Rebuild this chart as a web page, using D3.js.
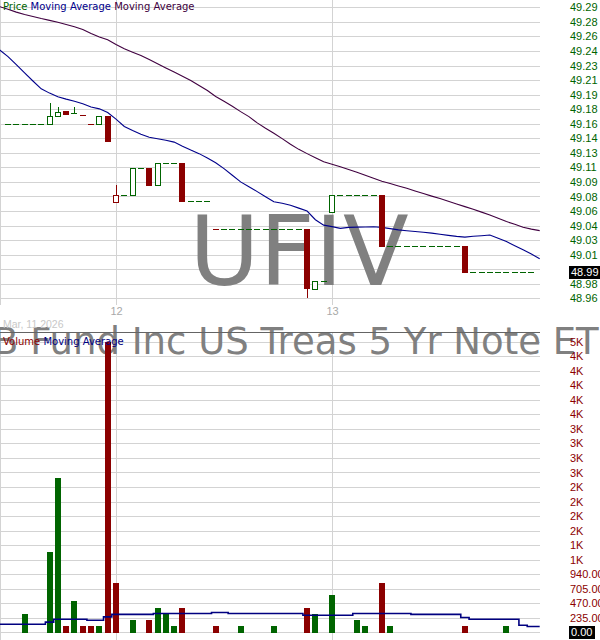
<!DOCTYPE html>
<html>
<head>
<meta charset="utf-8">
<title>UFIV intraday</title>
<script src="https://cdn.jsdelivr.net/npm/d3@7"></script>
<style>
    html, body { margin: 0; padding: 0; background: #fff; }
    #chart { width: 600px; height: 640px; }
    text { white-space: pre; }
</style>
</head>
<body>
<div id="chart"></div>
<script>
// UFIV, 15-minute bars, Mar 11 (last 14 slots) through Mar 13.
// Slot 0 is the Mar 12 open, slot 26 the Mar 13 open.
var firstSlot = -14;
var dayTicks = [0, 26];
var dayLabels = ['12', '13'];
var sessionCaption = 'Mar, 11 2026';
var symbol = 'UFIV';
var fundName = 'RBB Fund Inc US Treas 5 Yr Note ETF';

var priceTicks = [49.2935, 49.2768, 49.2602, 49.2435, 49.2268, 49.2102, 49.1935,
    49.1768, 49.1602, 49.1435, 49.1268, 49.1102, 49.0935, 49.0768, 49.0602,
    49.0435, 49.0268, 49.0102, 48.9935, 48.9768, 48.9602];
var volumeTicks = [0, 235, 470, 705, 940, 1175, 1410, 1645, 1880, 2115, 2350,
    2585, 2820, 3055, 3290, 3525, 3760, 3995, 4230, 4465, 4700];

//            Mar 11 tail (14) | Mar 12 (26) | Mar 13 (26)
var opens = [
    null, 49.160, 49.160, 49.160, 49.160, 49.160, 49.160, 49.169, 49.175, 49.172, 49.170, 49.160, 49.160, 49.169,
    49.070, 49.079, 49.079, 49.109, 49.109, 49.090, 49.115, 49.115, 49.115, 49.072, 49.072, 49.072, 49.040,
    49.040, 49.040, 49.040, 49.040, 49.040, 49.040, 49.040, 49.040, 49.040, 49.040, 49.040, 48.971, 48.980,
    49.059, 49.079, 49.079, 49.079, 49.079, 49.079, 49.079, 49.020, 49.020, 49.020, 49.020, 49.020, 49.020,
    49.020, 49.020, 49.020, 49.020, 48.990, 48.990, 48.990, 48.990, 48.990, 48.990, 48.990, 48.990, 48.990
];
var highs = [
    null, 49.160, 49.160, 49.160, 49.160, 49.160, 49.184, 49.179, 49.175, 49.179, 49.170, 49.160, 49.169, 49.169,
    49.090, 49.079, 49.109, 49.109, 49.109, 49.115, 49.115, 49.115, 49.115, 49.072, 49.072, 49.072, 49.040,
    49.040, 49.040, 49.040, 49.040, 49.040, 49.040, 49.040, 49.040, 49.040, 49.040, 49.040, 48.980, 48.980,
    49.079, 49.079, 49.079, 49.079, 49.079, 49.079, 49.079, 49.020, 49.020, 49.020, 49.020, 49.020, 49.020,
    49.020, 49.020, 49.020, 49.020, 48.990, 48.990, 48.990, 48.990, 48.990, 48.990, 48.990, 48.990, 48.990
];
var lows = [
    null, 49.160, 49.160, 49.160, 49.160, 49.160, 49.160, 49.169, 49.171, 49.172, 49.170, 49.160, 49.160, 49.140,
    49.070, 49.079, 49.079, 49.109, 49.090, 49.090, 49.115, 49.115, 49.072, 49.072, 49.072, 49.072, 49.040,
    49.040, 49.040, 49.040, 49.040, 49.040, 49.040, 49.040, 49.040, 49.040, 49.040, 48.960, 48.971, 48.980,
    49.059, 49.079, 49.079, 49.079, 49.079, 49.079, 49.020, 49.020, 49.020, 49.020, 49.020, 49.020, 49.020,
    49.020, 49.020, 49.020, 48.990, 48.990, 48.990, 48.990, 48.990, 48.990, 48.990, 48.990, 48.990, 48.990
];
var closes = [
    null, 49.160, 49.160, 49.160, 49.160, 49.160, 49.169, 49.174, 49.171, 49.172, 49.170, 49.160, 49.169, 49.140,
    49.079, 49.079, 49.109, 49.109, 49.090, 49.115, 49.115, 49.115, 49.072, 49.072, 49.072, 49.072, 49.040,
    49.040, 49.040, 49.040, 49.040, 49.040, 49.040, 49.040, 49.040, 49.040, 49.040, 48.972, 48.980, 48.980,
    49.079, 49.079, 49.079, 49.079, 49.079, 49.079, 49.020, 49.020, 49.020, 49.020, 49.020, 49.020, 49.020,
    49.020, 49.020, 49.020, 48.990, 48.990, 48.990, 48.990, 48.990, 48.990, 48.990, 48.990, 48.990, 48.990
];
var volumes = [
    0, 0, 0, 300, 0, 0, 1300, 2500, 100, 500, 100, 100, 100, 4700,
    800, 0, 200, 0, 200, 400, 300, 100, 400, 0, 0, 0, 100,
    0, 0, 100, 0, 0, 0, 100, 0, 0, 0, 400, 300, 0,
    600, 0, 0, 200, 100, 0, 800, 100, 0, 0, 0, 0, 0,
    0, 0, 0, 100, 0, 0, 0, 0, 100, 0, 0, 0
];

// moving averages as drawn (fast = blue, slow = purple)
var maFast = [
    49.2446, 49.2370, 49.2279, 49.2184, 49.2091, 49.2001, 49.1952, 49.1911, 49.1883, 49.1859, 49.1830, 49.1794, 49.1772, 49.1729,
    49.1654, 49.1570, 49.1524, 49.1481, 49.1446, 49.1429, 49.1412, 49.1391, 49.1344, 49.1300, 49.1259, 49.1209, 49.1154,
    49.1087, 49.1012, 49.0935, 49.0880, 49.0824, 49.0765, 49.0707, 49.0691, 49.0667, 49.0635, 49.0601, 49.0502, 49.0440,
    49.0423, 49.0403, 49.0414, 49.0417, 49.0418, 49.0422, 49.0414, 49.0400, 49.0386, 49.0376, 49.0367, 49.0358, 49.0348,
    49.0336, 49.0323, 49.0311, 49.0303, 49.0312, 49.0319, 49.0327, 49.0290, 49.0252, 49.0205, 49.0157, 49.0109, 49.0055
];
var maSlow = [
    49.2942, 49.2912, 49.2880, 49.2853, 49.2830, 49.2806, 49.2785, 49.2764, 49.2739, 49.2713, 49.2681, 49.2636, 49.2596, 49.2563,
    49.2508, 49.2460, 49.2421, 49.2384, 49.2336, 49.2289, 49.2241, 49.2193, 49.2146, 49.2097, 49.2039, 49.1982, 49.1913,
    49.1858, 49.1801, 49.1740, 49.1683, 49.1611, 49.1550, 49.1492, 49.1431, 49.1366, 49.1308, 49.1259, 49.1211, 49.1165,
    49.1138, 49.1108, 49.1077, 49.1045, 49.1012, 49.0977, 49.0943, 49.0916, 49.0888, 49.0862, 49.0832, 49.0802, 49.0772,
    49.0744, 49.0713, 49.0683, 49.0652, 49.0621, 49.0589, 49.0555, 49.0518, 49.0481, 49.0450, 49.0415, 49.0394, 49.0377
];
var volumeMa = [
    130, 130, 130, 130, 130, 130, 165, 210, 210, 210, 210, 195, 195, 250,
    290, 290, 290, 290, 290, 305, 305, 305, 305, 305, 305, 305, 320,
    320, 305, 305, 305, 305, 305, 305, 305, 305, 305, 275, 275, 275,
    275, 275, 275, 305, 305, 305, 305, 305, 305, 305, 290, 290, 290,
    290, 290, 290, 240, 210, 210, 210, 210, 210, 210, 115, 95, 95
];

(function () {
    var W = 600, H = 640;
    var plotRight = 540;    // both panels end here
    var labelX = 570;       // value labels on the right
    var priceBottom = 305;  // vertical grid in the price panel stops here
    var volTop = 332;       // volume panel border

    var cUp = '#006400', cDown = '#8b0000';
    var cFast = '#00008b', cSlow = '#400040';
    var cGrid = '#d3d3d3';
    var mono = '"DejaVu Sans", Verdana, sans-serif';

    var svg = d3.select('#chart').append('svg')
        .attr('width', W).attr('height', H)
        .attr('viewBox', '0 0 ' + W + ' ' + H)
        .style('font-family', '"Liberation Sans", Arial, sans-serif');

    var x = d3.scaleLinear().domain(dayTicks).range([116, 332]);
    var yPrice = d3.scaleLinear().domain(d3.extent(priceTicks)).range([298.3, 7.3]);
    var yVol = d3.scaleLinear().domain(d3.extent(volumeTicks)).range([632.3, 341.7]);

    function cx(i) { return Math.round(x(firstSlot + i)); }
    function crisp(v) { return Math.round(v) + 0.5; }

    var bars = d3.range(volumes.length).map(function (i) {
        var prev = i > 0 ? closes[i - 1] : null;
        var c = closes[i];
        return {
            i: i, o: opens[i], h: highs[i], l: lows[i], c: c, v: volumes[i],
            up: prev == null || c == null || c >= prev
        };
    });

    // ---- gridlines ---------------------------------------------------
    var grid = svg.append('g').attr('stroke', cGrid).attr('stroke-width', 1);
    priceTicks.forEach(function (p) {
        grid.append('line').attr('x1', 0).attr('x2', plotRight)
            .attr('y1', crisp(yPrice(p))).attr('y2', crisp(yPrice(p)));
    });
    volumeTicks.forEach(function (v) {
        grid.append('line').attr('x1', 0).attr('x2', plotRight)
            .attr('y1', crisp(yVol(v))).attr('y2', crisp(yVol(v)));
    });
    [0.5].concat(dayTicks.map(function (d) { return crisp(x(d)); })).forEach(function (gx) {
        grid.append('line').attr('x1', gx).attr('x2', gx).attr('y1', 0).attr('y2', priceBottom);
        grid.append('line').attr('x1', gx).attr('x2', gx).attr('y1', volTop).attr('y2', H);
    });

    // ---- watermarks --------------------------------------------------
    svg.append('text').text(symbol)
        .attr('x', 299).attr('y', 285).attr('text-anchor', 'middle')
        .attr('font-family', mono).attr('font-size', 96).attr('fill', '#808080');
    svg.append('text').text(fundName)
        .attr('x', 281).attr('y', 354).attr('text-anchor', 'middle')
        .attr('font-family', mono).attr('font-size', 37).attr('fill', '#808080');

    svg.append('line')
        .attr('x1', 0).attr('x2', plotRight)
        .attr('y1', volTop + 0.5).attr('y2', volTop + 0.5)
        .attr('stroke', '#646464');

    // ---- price panel -------------------------------------------------
    svg.append('clipPath').attr('id', 'plot-clip')
        .append('rect').attr('x', 0).attr('y', 0).attr('width', plotRight).attr('height', H);

    var maLine = d3.line()
        .x(function (d, i) { return x(firstSlot + i); })
        .y(function (d) { return yPrice(d); });
    [[maSlow, cSlow], [maFast, cFast]].forEach(function (s) {
        svg.append('path').datum(s[0])
            .attr('clip-path', 'url(#plot-clip)')
            .attr('fill', 'none').attr('stroke', s[1]).attr('stroke-width', 1.1)
            .attr('d', maLine);
    });

    var gCandle = svg.append('g');
    bars.forEach(function (b) {
        if (b.o == null) return;
        var col = b.up ? cUp : cDown;
        var X = cx(b.i);
        var top = Math.round(yPrice(Math.max(b.o, b.c)));
        var bot = Math.round(yPrice(Math.min(b.o, b.c)));
        if (b.h > Math.max(b.o, b.c)) {
            gCandle.append('line').attr('stroke', col)
                .attr('x1', X + 0.5).attr('x2', X + 0.5)
                .attr('y1', Math.round(yPrice(b.h))).attr('y2', top);
        }
        if (b.l < Math.min(b.o, b.c)) {
            gCandle.append('line').attr('stroke', col)
                .attr('x1', X + 0.5).attr('x2', X + 0.5)
                .attr('y1', bot).attr('y2', Math.round(yPrice(b.l)));
        }
        if (b.o === b.c) {
            gCandle.append('line').attr('stroke', col)
                .attr('x1', X - 3).attr('x2', X + 3)
                .attr('y1', top + 0.5).attr('y2', top + 0.5);
        } else if (b.c > b.o) {
            gCandle.append('rect')
                .attr('x', X - 2.5).attr('y', top + 0.5)
                .attr('width', 5).attr('height', Math.max(1, bot - top))
                .attr('fill', '#fff').attr('stroke', col);
        } else {
            gCandle.append('rect')
                .attr('x', X - 3).attr('y', top)
                .attr('width', 6).attr('height', Math.max(1, bot - top + 1))
                .attr('fill', col);
        }
    });

    // ---- volume panel ------------------------------------------------
    svg.append('g').selectAll('rect')
        .data(bars.filter(function (b) { return b.v > 0; }))
        .join('rect')
        .attr('x', function (b) { return cx(b.i) - 3; })
        .attr('width', 6)
        .attr('y', function (b) { return Math.round(yVol(b.v)); })
        .attr('height', function (b) { return Math.round(yVol(0)) - Math.round(yVol(b.v)) + 1; })
        .attr('fill', function (b) { return b.up ? cUp : cDown; });

    svg.append('path').datum(volumeMa)
        .attr('clip-path', 'url(#plot-clip)')
        .attr('fill', 'none').attr('stroke', '#000080').attr('stroke-width', 1.6)
        .attr('d', d3.line()
            .x(function (d, i) { return x(firstSlot + i); })
            .y(function (d) { return yVol(d); })
            .curve(d3.curveStep));

    // ---- axes --------------------------------------------------------
    var lastClose = closes[closes.length - 1];
    var lastVol = volumes[volumes.length - 1];

    function fmtVol(v) { return v < 1000 ? v.toFixed(2) : Math.round(v / 1000) + 'K'; }

    var pAxis = svg.append('g')
        .attr('transform', 'translate(' + labelX + ',0)')
        .call(d3.axisRight(yPrice)
            .tickValues(priceTicks.filter(function (p) {
                return Math.abs(yPrice(p) - yPrice(lastClose)) > 8;
            }))
            .tickSize(0).tickPadding(0).tickFormat(d3.format('.2f')));
    var vAxis = svg.append('g')
        .attr('transform', 'translate(' + labelX + ',0)')
        .call(d3.axisRight(yVol)
            .tickValues(volumeTicks.filter(function (v) {
                return Math.abs(yVol(v) - yVol(lastVol)) > 8;
            }))
            .tickSize(0).tickPadding(0).tickFormat(fmtVol));
    var dAxis = svg.append('g')
        .attr('transform', 'translate(0,' + (priceBottom - 1) + ')')
        .call(d3.axisBottom(x).tickValues(dayTicks)
            .tickSize(0).tickPadding(3)
            .tickFormat(function (d, i) { return dayLabels[i]; }));

    [[pAxis, cUp], [vAxis, cDown], [dAxis, '#a9a9a9']].forEach(function (a) {
        a[0].select('.domain').remove();
        a[0].selectAll('text')
            .attr('font-family', '"Liberation Sans", Arial, sans-serif')
            .attr('font-size', 11).attr('fill', a[1]);
    });

    // current value boxes
    function valueBox(y, label) {
        var g = svg.append('g');
        var t = g.append('text').text(label)
            .attr('x', labelX + 1).attr('y', y).attr('dy', '0.36em')
            .attr('font-size', 11).attr('fill', '#fff');
        var w = t.node().getComputedTextLength();
        g.insert('rect', 'text')
            .attr('x', labelX - 1).attr('y', Math.round(y) - 6)
            .attr('width', Math.ceil(w) + 4).attr('height', 13)
            .attr('fill', '#000');
    }
    valueBox(yPrice(lastClose), lastClose.toFixed(2));
    valueBox(yVol(lastVol), fmtVol(lastVol));

    // ---- legends and captions ----------------------------------------
    function legend(y, parts) {
        var t = svg.append('text').attr('x', 3).attr('y', y)
            .attr('font-family', mono).attr('font-size', 10);
        parts.forEach(function (p, k) {
            t.append('tspan').text((k ? ' ' : '') + p[0]).attr('fill', p[1]);
        });
    }
    legend(10, [['Price', cUp], ['Moving Average', cFast], ['Moving Average', cSlow]]);
    legend(345, [['Volume', cDown], ['Moving Average', '#000080']]);

    svg.append('text').text(sessionCaption)
        .attr('x', 3).attr('y', 328)
        .attr('font-size', 10.5).attr('fill', '#c8c8c8');
})();
</script>
</body>
</html>
